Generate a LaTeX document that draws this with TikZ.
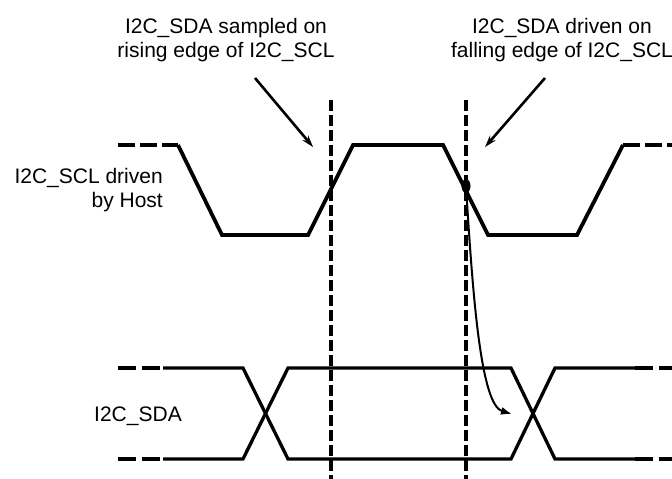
\documentclass[tikz,border=0pt]{standalone}
\usepackage{fontspec}
\setmainfont{Liberation Sans}
\usetikzlibrary{arrows.meta,shapes.geometric}
\begin{document}
\begin{tikzpicture}[x=1pt,y=-1pt,
  lbl/.style={font=\fontsize{21}{24}\selectfont, inner sep=0pt, align=center},
  sig/.style={line width=3.8pt, line join=miter},
  sigdash/.style={line width=3.8pt, dash pattern=on 17pt off 5pt},
  sda/.style={line width=3.3pt},
  sdadash/.style={line width=3.3pt, dash pattern=on 18pt off 6pt},
  vline/.style={line width=3.1pt, dash pattern=on 11pt off 4pt},
  ptr/.style={line width=2.6pt, -{Stealth[length=12pt,width=7.5pt]}},
  curv/.style={line width=2pt, -{Latex[length=11pt,width=8pt]}}
]
\useasboundingbox (0,0) rectangle (672,479);
% labels
\node[lbl, anchor=base] (sampled) at (226,57) {I2C\_SDA sampled on\\rising edge of I2C\_SCL};
\node[lbl, anchor=base] (driven) at (562,57) {I2C\_SDA driven on\\falling edge of I2C\_SCL};
\node[lbl, anchor=base east, align=right] (scl) at (163,207) {I2C\_SCL driven\\by Host};
\node[lbl, anchor=base] (sdal) at (138,421) {I2C\_SDA};
% SCL waveform
\coordinate (s0) at (118,145);
\coordinate (s1) at (178,145);
\coordinate (s2) at (222,235);
\coordinate (s3) at (308,235);
\coordinate (s4) at (353,145);
\coordinate (s5) at (443,145);
\coordinate (s6) at (488,235);
\coordinate (s7) at (577,235);
\coordinate (s8) at (623,145);
\coordinate (s9) at (672,145);
\draw[sigdash] (s0) -- (s1);
\draw[sig] (s1) -- (s2) -- (s3) -- (s4) -- (s5) -- (s6) -- (s7) -- (s8);
\draw[sigdash] (s8) -- (s9);
% SDA waveform
\coordinate (a0) at (118,368);
\coordinate (a1) at (163,368);
\coordinate (a2) at (243,368);
\coordinate (a3) at (288,459);
\coordinate (b0) at (118,459);
\coordinate (b1) at (163,459);
\coordinate (b2) at (243,459);
\coordinate (b3) at (288,368);
\coordinate (c0) at (511,368);
\coordinate (c1) at (555,459);
\coordinate (c2) at (635,459);
\coordinate (c3) at (672,459);
\coordinate (d0) at (511,459);
\coordinate (d1) at (555,368);
\coordinate (d2) at (635,368);
\coordinate (d3) at (672,368);
\draw[sdadash] (a0) -- (a1);
\draw[sdadash] (b0) -- (b1);
\draw[sda] (a1) -- (a2) -- (a3) -- (d0) -- (d1) -- (d2);
\draw[sda] (b1) -- (b2) -- (b3) -- (c0) -- (c1) -- (c2);
\draw[sdadash] (d2) -- (d3);
\draw[sdadash] (c2) -- (c3);
% vertical dashed lines
\coordinate (v1t) at (331,100);
\coordinate (v1b) at (331,479);
\coordinate (v2t) at (466,100);
\coordinate (v2b) at (466,479);
\draw[vline] (v1t) -- (v1b);
\draw[vline] (v2t) -- (v2b);
% pointers
\coordinate (p1s) at (255,78);
\coordinate (p1e) at (313,147);
\coordinate (p2s) at (545,78);
\coordinate (p2e) at (485,147);
\draw[ptr] (p1s) -- (p1e);
\draw[ptr] (p2s) -- (p2e);
% curved causality arrow
\node[ellipse, fill=black, inner sep=0pt, minimum width=9pt, minimum height=14pt] (dot) at (466,186) {};
\coordinate (ce) at (512,414);
\draw[curv] (dot.center) .. controls (473,300) and (481,405) .. (ce);
\end{tikzpicture}
\end{document}
